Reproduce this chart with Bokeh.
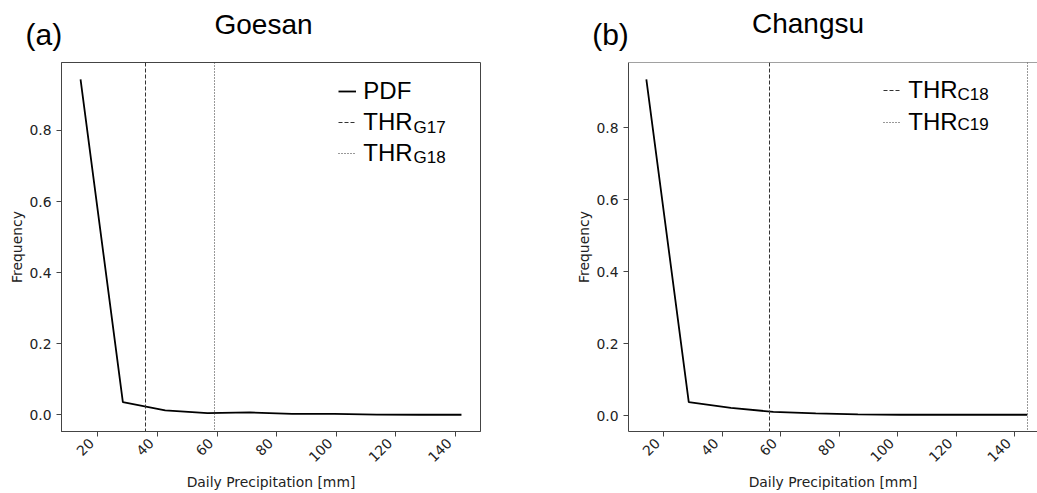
import numpy as np
from bokeh.plotting import figure
from bokeh.layouts import row, column
from bokeh.models import (Range1d, FixedTicker, PrintfTickFormatter, Legend,
                          LegendItem, Label, Span)
from bokeh.embed import file_html
from bokeh.resources import INLINE

# ---------------- data ----------------
x_goesan = [14.2, 28.4, 42.6, 56.8, 71.0, 85.2, 99.4, 113.6, 127.8, 142.0]
pdf_goesan = [0.944, 0.036, 0.013, 0.005, 0.007, 0.003, 0.003, 0.001, 0.0005, 0.0005]
thr_goesan = [35.9, 59.1]
thr_goesan_sub = ["G17", "G18"]

x_changsu = [14.1, 28.6, 43.0, 57.5, 72.0, 86.4, 100.9, 115.4, 129.8, 144.3]
pdf_changsu = [0.934, 0.038, 0.022, 0.011, 0.007, 0.004, 0.003, 0.003, 0.003, 0.003]
thr_changsu = [56.1, 144.3]
thr_changsu_sub = ["C18", "C19"]

x_ticks = [20, 40, 60, 80, 100, 120, 140]
y_ticks = [0.0, 0.2, 0.4, 0.6, 0.8]

x_label = "Daily Precipitation [mm]"
y_label = "Frequency"
titles = ["Goesan", "Changsu"]
tags = ["(a)", "(b)"]

AX = "#444444"
TXT = "#222222"
SANS = "Liberation Sans"
NB = "\u00a0"   # trailing no-break spaces: rotated labels end just left of the tick

HEADER_H = 56
PANEL_H = 493 - HEADER_H


def make_panel(xs, ys, thr, subs, width, border_left, border_right,
               x_range, legend_xy, show_pdf_legend, sub_pos, right_spine,
               spacing):
    y_min, y_max = min(ys), max(ys)
    pad = 0.05 * (y_max - y_min)
    p = figure(width=width, height=PANEL_H, output_backend="svg",
               toolbar_location=None, title=None,
               x_range=Range1d(*x_range),
               y_range=Range1d(y_min - pad, y_max + pad),
               min_border_left=border_left, min_border_right=border_right,
               min_border_top=6, min_border_bottom=62)
    p.grid.visible = False
    p.background_fill_color = "white"
    p.border_fill_color = "white"
    if right_spine:
        p.outline_line_color = AX
    else:
        p.outline_line_color = None
        p.add_layout(Span(location=y_max + pad, dimension="width",
                          line_color=AX, line_width=1))

    r_pdf = p.line(xs, ys, line_color="black", line_width=1.8)
    r_dash = p.vspan(x=[thr[0]], line_color="#333333", line_width=1,
                     line_dash="4 2")
    r_dot = p.vspan(x=[thr[1]], line_color="#333333", line_width=1,
                    line_dash="1 2")

    p.xaxis.ticker = FixedTicker(ticks=x_ticks)
    p.xaxis.major_label_overrides = {t: str(t) + NB * 2 for t in x_ticks}
    p.yaxis.ticker = FixedTicker(ticks=y_ticks)
    p.yaxis.formatter = PrintfTickFormatter(format="%.1f")
    p.xaxis.axis_label = x_label
    p.yaxis.axis_label = y_label
    for ax in (p.xaxis[0], p.yaxis[0]):
        ax.axis_line_color = AX
        ax.major_tick_line_color = AX
        ax.minor_tick_line_color = None
        ax.major_tick_out = 5
        ax.major_tick_in = 0
        ax.major_label_text_font = "DejaVu Sans"
        ax.major_label_text_font_size = "13.9px"
        ax.major_label_text_color = TXT
        ax.axis_label_text_font = "DejaVu Sans"
        ax.axis_label_text_font_size = "13.9px"
        ax.axis_label_text_font_style = "normal"
        ax.axis_label_text_color = TXT
    p.xaxis.major_label_orientation = np.pi / 4
    p.xaxis.major_label_standoff = -2
    p.xaxis.axis_label_standoff = 0
    p.yaxis.major_label_standoff = 5
    p.yaxis.axis_label_standoff = 1

    items = []
    if show_pdf_legend:
        items.append(LegendItem(label="PDF", renderers=[r_pdf]))
    items.append(LegendItem(label="THR", renderers=[r_dash]))
    items.append(LegendItem(label="THR", renderers=[r_dot]))
    leg = Legend(items=items, location=legend_xy, orientation="vertical",
                 label_text_font=SANS, label_text_font_size="24px",
                 label_text_color="black",
                 glyph_width=18, glyph_height=26, label_height=26,
                 label_standoff=7, spacing=spacing, padding=0, margin=0,
                 border_line_color=None, background_fill_alpha=0)
    p.add_layout(leg)

    for s, (sx, sy) in zip(subs, sub_pos):
        p.add_layout(Label(x=sx, y=sy, x_units="screen", y_units="screen",
                           text=s, text_font=SANS, text_font_size="17px",
                           text_color="black", text_baseline="alphabetic",
                           text_align="left"))
    return p


# header with panel titles
header = figure(width=1037, height=HEADER_H, output_backend="svg",
                toolbar_location=None, title=None,
                x_range=Range1d(0, 1037), y_range=Range1d(0, HEADER_H),
                x_axis_location=None, y_axis_location=None, min_border=0)
header.outline_line_color = None
header.grid.visible = False
title_pos = [(263, 32), (807.5, 32.7)]
tag_pos = [(25, 22), (591.7, 22)]
for t, (tx, ty) in zip(titles, title_pos):
    header.add_layout(Label(x=tx, y=ty, x_units="screen", y_units="screen",
                            text=t, text_font=SANS, text_font_size="28px",
                            text_color="black", text_align="center",
                            text_baseline="alphabetic"))
for t, (tx, ty) in zip(tags, tag_pos):
    header.add_layout(Label(x=tx, y=ty, x_units="screen", y_units="screen",
                            text=t, text_font=SANS, text_font_size="30px",
                            text_color="black", text_align="left",
                            text_baseline="alphabetic"))

xa_lo, xa_hi = min(x_goesan), max(x_goesan)
xa_pad = 0.05 * (xa_hi - xa_lo)
pa = make_panel(x_goesan, pdf_goesan, thr_goesan, thr_goesan_sub,
                560, 61, 80, (xa_lo - xa_pad, xa_hi + xa_pad),
                (277.3, 264), True,
                [(352, 304.5), (352, 274.5)], True, 3)
pb = make_panel(x_changsu, pdf_changsu, thr_changsu, thr_changsu_sub,
                477, 68, 0, (8.0, 147.8),
                (255.3, 295), False,
                [(329, 337.5), (329, 307.5)], False, 4)

layout = column(header, row(pa, pb))
open("out.html", "w").write(file_html(layout, INLINE))
